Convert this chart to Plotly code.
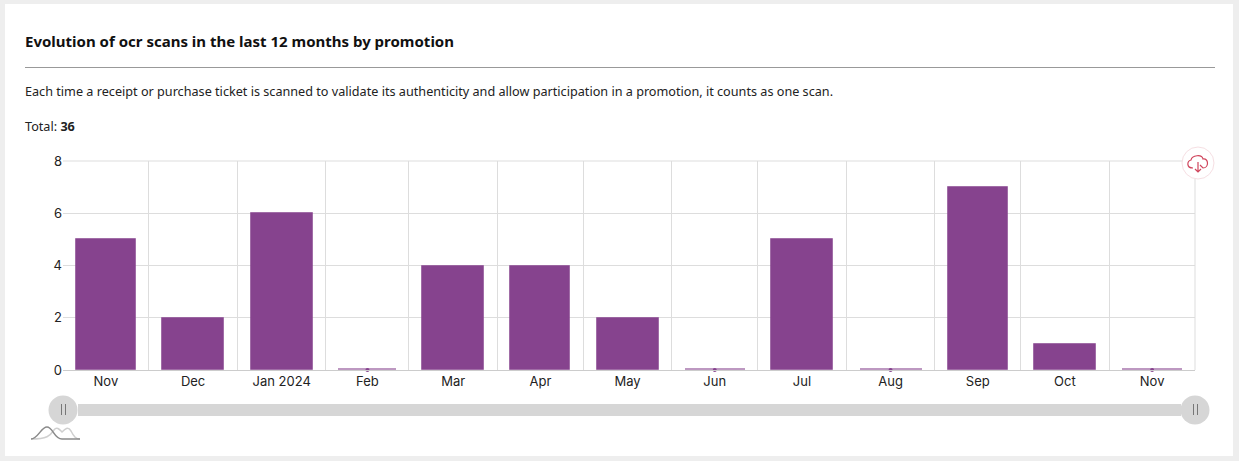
import pandas as pd
import plotly.graph_objects as go

W, H = 1239, 461

months = ["2023-11-01", "2023-12-01", "2024-01-01", "2024-02-01", "2024-03-01", "2024-04-01", "2024-05-01",
          "2024-06-01", "2024-07-01", "2024-08-01", "2024-09-01", "2024-10-01", "2024-11-01"]
month_labels = ["Nov", "Dec", "Jan 2024", "Feb", "Mar", "Apr", "May", "Jun", "Jul", "Aug", "Sep", "Oct", "Nov"]
scans = [5, 2, 6, 0, 4, 4, 2, 0, 5, 0, 7, 1, 0]

PURPLE = "#86438e"
FONT = "Noto Sans"
TICK_FONT = "Inter"
GRID = "#dddddd"


def px(x):
    return x / W


def py(y):
    return 1 - y / H


def path_px(*parts):
    # parts are svg commands and pixel pairs, converted to paper coordinates
    out = []
    for p in parts:
        if isinstance(p, str):
            out.append(p)
        else:
            out.append(f"{px(p[0]):.5f},{py(p[1]):.5f}")
    return " ".join(out)


def rect(x0, y0, x1, y1, color):
    return dict(type="rect", xref="paper", yref="paper", x0=px(x0), x1=px(x1), y0=py(y0), y1=py(y1),
                fillcolor=color, line_width=0, layer="below")


def circle(cx, cy, r, fill, line="rgba(0,0,0,0)", width=0):
    return dict(type="circle", xref="paper", yref="paper", x0=px(cx - r), x1=px(cx + r), y0=py(cy + r), y1=py(cy - r),
                fillcolor=fill, line=dict(color=line, width=width), layer="above")


def seg(x0, y0, x1, y1, color, width=1, layer="above"):
    return dict(type="line", xref="paper", yref="paper", x0=px(x0), x1=px(x1), y0=py(y0), y1=py(y1),
                line=dict(color=color, width=width), layer=layer)


def curve(color, width, *parts):
    return dict(type="path", xref="paper", yref="paper", path=path_px(*parts),
                line=dict(color=color, width=width), layer="above")


def text(x, y, s, size, color="#1f1f1f"):
    return dict(xref="paper", yref="paper", x=px(x), y=py(y), text=s, showarrow=False, xanchor="left", yanchor="middle",
                font=dict(family=FONT, size=size, color=color), align="left", borderpad=0, borderwidth=0)


# bars sit in the middle of each month and take 70% of its length
starts = pd.to_datetime(months)
ends = starts + pd.offsets.MonthBegin(1)
lengths = ends - starts
centers = starts + lengths / 2
widths = [d.total_seconds() * 1000 * 0.7 for d in lengths]
# empty months still show a pale strip on the axis
line_widths = [1 if v else 4 for v in scans]

fig = go.Figure()
fig.add_trace(go.Bar(x=centers, y=scans, width=widths,
                     marker=dict(color=PURPLE, line=dict(color="rgba(134,67,142,0.55)", width=line_widths)),
                     showlegend=False))
zero_x = [c for c, v in zip(centers, scans) if v == 0]
zero_y = [v for v in scans if v == 0]
fig.add_trace(go.Scatter(x=zero_x, y=zero_y, mode="markers", marker=dict(color=PURPLE, size=4), cliponaxis=False, showlegend=False))

shapes = [
    rect(5, 4, 1233, 456, "white"),
    seg(63, 161, 1195, 161, GRID, 1, "below"),
    seg(1195, 161, 1195, 370, GRID, 1, "below"),
    seg(25, 67.5, 1215, 67.5, "#999999", 1),
    # slider
    rect(78, 404, 1181, 416, "#d6d6d6"),
    circle(63, 410, 14.5, "#d6d6d6"),
    circle(1195, 410, 14.5, "#d6d6d6"),
    seg(61.5, 404, 61.5, 415, "#777777", 1),
    seg(65.5, 404, 65.5, 415, "#777777", 1),
    seg(1193.5, 404, 1193.5, 415, "#777777", 1),
    seg(1197.5, 404, 1197.5, 415, "#777777", 1),
    # mini chart icon
    curve("#cfcfcf", 1.5, "M", (31, 439), "C", (47, 439), (50, 436), (54, 430), "C", (57, 426), (60, 430), (62, 432), "C", (65, 429), (68, 426), (71, 431), "C", (74, 437), (76, 439), (80, 439)),
    curve("#8a8a8a", 1.5, "M", (31, 439), "C", (38, 439), (41, 427), (47, 427), "C", (53, 427), (54, 439), (62, 439), "L", (80, 439)),
    # download button
    circle(1198, 163, 16, "white", "#f6dfe3", 1),
    curve("#d0455c", 1.2, "M", (1193, 168), "C", (1186, 168), (1187, 161), (1191, 160), "C", (1192, 155), (1202, 154), (1203, 159), "C", (1209, 158), (1209, 168), (1203, 168), "L", (1200, 165)),
    curve("#d0455c", 1.2, "M", (1198, 162), "L", (1198, 172), "M", (1195, 169), "L", (1198, 172), "L", (1201, 169)),
]

annotations = [
    text(25, 41.5, "<b>Evolution of ocr scans in the last 12 months by promotion</b>", 15, "#111111"),
    text(25, 91, "Each time a receipt or purchase ticket is scanned to validate its authenticity and allow participation in a promotion, it counts as one scan.", 12.65, "#222222"),
    text(25, 125.5, "Total: <b>36</b>", 12.65, "#222222"),
]

fig.update_layout(
    width=W, height=H, margin=dict(l=0, r=0, t=0, b=0, autoexpand=False), autosize=False,
    paper_bgcolor="#eeeeee", plot_bgcolor="rgba(0,0,0,0)",
    shapes=shapes, annotations=annotations, bargap=0,
    font=dict(family=TICK_FONT, size=13, color="#222222"),
    xaxis=dict(domain=[px(63), px(1195)], type="date", range=[starts[0], ends[-1]], automargin=False,
               tickmode="array", tickvals=centers, ticktext=month_labels, showgrid=False, ticks="", zeroline=False,
               tickfont=dict(size=13), ticklen=0, ticklabelstandoff=-1,
               minor=dict(tick0=months[0], dtick="M1", showgrid=True, gridcolor=GRID, gridwidth=1, ticks=""),
               showline=True, linecolor="#cccccc", linewidth=1, mirror=False),
    yaxis=dict(domain=[py(370), py(161)], range=[0, 8], tickvals=[0, 2, 4, 6, 8], gridcolor=GRID, gridwidth=1,
               automargin=False, zeroline=False, ticks="", tickfont=dict(size=13), showline=False),
)

fig.write_html("out.html", config=dict(displayModeBar=False),
               post_script="document.body.style.margin='0';document.body.style.overflow='hidden';")
